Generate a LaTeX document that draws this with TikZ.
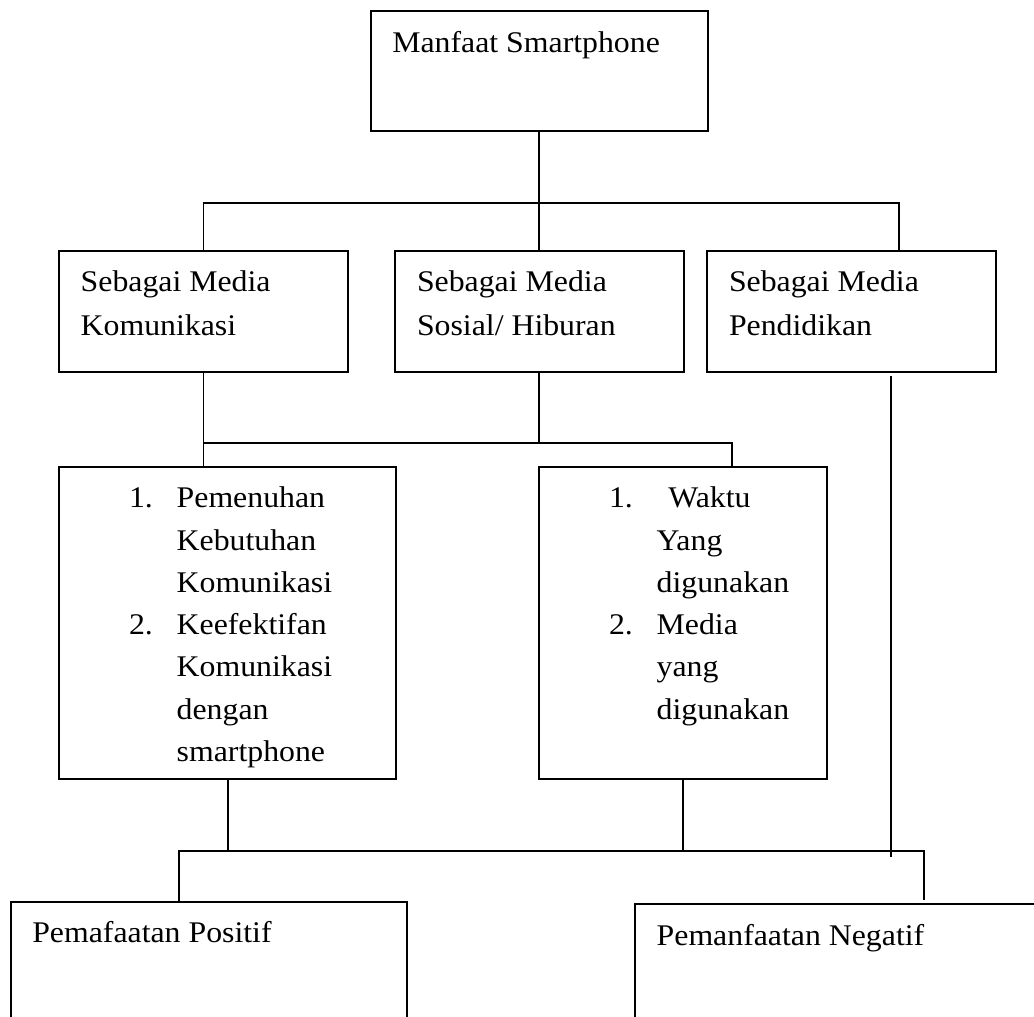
\documentclass[tikz,border=0pt]{standalone}
\usepackage{fontspec}
\setmainfont{Liberation Serif}[FakeStretch=1.06]
\begin{document}
\begin{tikzpicture}[x=1pt,y=-1pt,
  box/.style={draw, line width=1.8pt, rectangle, inner sep=0pt, outer sep=0pt, anchor=north west},
  link/.style={line width=1.8pt},
  lbl/.style={anchor=base west, inner sep=0pt, outer sep=0pt, font=\fontsize{30}{44}\selectfont},
  lst/.style={anchor=base west, inner sep=0pt, outer sep=0pt, font=\fontsize{30}{42.3}\selectfont}]
\fill[white] (0,0) rectangle (1034,1017);
\useasboundingbox (0,0) rectangle (1034,1017);
\clip (0,0) rectangle (1034,1017);

% boxes
\node[box, minimum width=336.6pt, minimum height=120pt] (top) at (371,11.3) {};
\node[box, minimum width=288.4pt, minimum height=120.7pt] (b1) at (59.3,251) {};
\node[box, minimum width=288.6pt, minimum height=120.7pt] (b2) at (395,251) {};
\node[box, minimum width=288.4pt, minimum height=120.7pt] (b3) at (707.3,251) {};
\node[box, minimum width=336.7pt, minimum height=312pt] (l1) at (59.3,467.3) {};
\node[box, minimum width=288.3pt, minimum height=312pt] (l2) at (539,467.3) {};
\node[box, minimum width=395.7pt, minimum height=160pt] (pos) at (11.3,901.7) {};
\node[box, minimum width=450pt, minimum height=160pt] (neg) at (635,904) {};

% texts
\node[lbl] (ttop) at (392.3,52.7) {Manfaat Smartphone};
\node[lbl] (tb1) at (80.7,291) {\vtop{\hbox{Sebagai Media}\hbox{Komunikasi}}};
\node[lbl] (tb2) at (417,291) {\vtop{\hbox{Sebagai Media}\hbox{Sosial/ Hiburan}}};
\node[lbl] (tb3) at (729,291) {\vtop{\hbox{Sebagai Media}\hbox{Pendidikan}}};
\node[lst] (tl1) at (129,507.7) {\vtop{%
  \hbox{\makebox[47.7pt][l]{1.}Pemenuhan}
  \hbox{\hspace{47.7pt}Kebutuhan}
  \hbox{\hspace{47.7pt}Komunikasi}
  \hbox{\makebox[47.7pt][l]{2.}Keefektifan}
  \hbox{\hspace{47.7pt}Komunikasi}
  \hbox{\hspace{47.7pt}dengan}
  \hbox{\hspace{47.7pt}smartphone}}};
\node[lst] (tl2) at (609,507.7) {\vtop{%
  \hbox{\makebox[47.7pt][l]{1.}\hspace{11.6pt}Waktu}
  \hbox{\hspace{47.7pt}Yang}
  \hbox{\hspace{47.7pt}digunakan}
  \hbox{\makebox[47.7pt][l]{2.}Media}
  \hbox{\hspace{47.7pt}yang}
  \hbox{\hspace{47.7pt}digunakan}}};
\node[lbl] (tpos) at (32.3,942.7) {Pemafaatan Positif};
\node[lbl] (tneg) at (656.7,945) {Pemanfaatan Negatif};

% junction coordinates
\coordinate (bus1) at (539.3,203.3);
\coordinate (b3top) at (899.3,251);
\coordinate (bus2) at (539.3,443.3);
\coordinate (bus2w) at (b1.south |- bus2);
\coordinate (l1top) at (b1.south |- l1.north);
\coordinate (l2top) at (731.7,467.3);
\coordinate (bus3w) at (179.3,851);
\coordinate (bus3e) at (923.7,851);
\coordinate (postop) at (bus3w |- pos.north);
\coordinate (negtop) at (923.7,900);
\coordinate (pa) at (891,376);
\coordinate (pb) at (891,856.7);

% connectors
\draw[link] (top.south) -- (b2.north);
\draw[link] (b1.north) |- (bus1) -| (b3top);
\draw[link] (b2.south) -- (bus2);
\draw[link] (b1.south) -- (l1top);
\draw[link] (bus2w) -| (l2top);
\draw[link] (l1.south) -- (l1.south |- bus3w);
\draw[link] (l2.south) -- (l2.south |- bus3w);
\draw[link] (postop) |- (bus3e) -- (negtop);
\draw[link] (pa) -- (pb);
\end{tikzpicture}
\end{document}
